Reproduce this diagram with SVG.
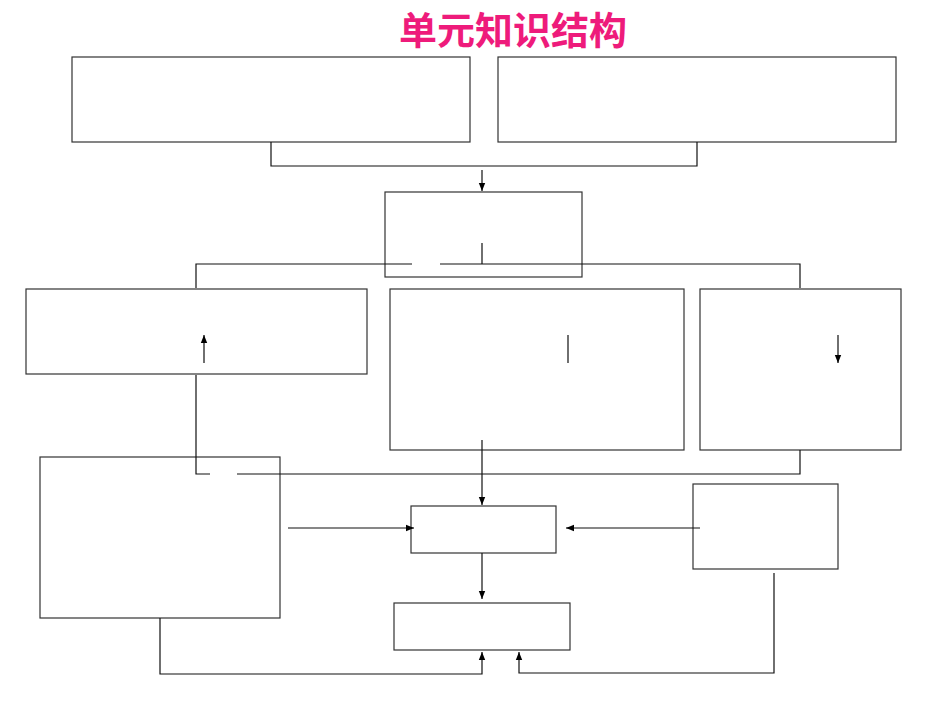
<svg xmlns="http://www.w3.org/2000/svg" width="950" height="713" viewBox="0 0 950 713">
<style>
.b{fill:#fff;stroke:#333;stroke-width:1.2}
.c{fill:none;stroke:#111;stroke-width:1.2}
.t{font-family:"Noto Sans CJK SC",sans-serif;font-size:38px;fill:#ee1b7b;font-weight:bold}
</style>
<defs>
<marker id="a" viewBox="0 0 10 10" refX="10" refY="5" markerWidth="7" markerHeight="7" orient="auto-start-reverse"><path d="M0,1L10,5L0,9z" fill="#000"/></marker>
</defs>
<rect width="950" height="713" fill="#fff"/>
<text class="t" x="513" y="44" text-anchor="middle">单元知识结构</text>
<g id="n1"><rect class="b" x="72" y="57" width="398" height="85"/></g>
<g id="n2"><rect class="b" x="498" y="57" width="398" height="85"/></g>
<g id="n3"><rect class="b" x="385" y="192" width="197" height="85"/></g>
<g id="n4"><rect class="b" x="26" y="289" width="341" height="85"/></g>
<g id="n5"><rect class="b" x="390" y="289" width="294" height="161"/></g>
<g id="n6"><rect class="b" x="700" y="289" width="201" height="161"/></g>
<g id="n7"><rect class="b" x="40" y="457" width="240" height="161"/></g>
<g id="n8"><rect class="b" x="411" y="506" width="145" height="47"/></g>
<g id="n9"><rect class="b" x="693" y="484" width="145" height="85"/></g>
<g id="n10"><rect class="b" x="394" y="603" width="176" height="47"/></g>
<g id="connectors">
<path class="c" d="M271,142V166H697V142"/>
<path class="c" d="M482,170V191" marker-end="url(#a)"/>
<path class="c" d="M482,243V264M196,288V264H412M440,264H800V288"/>
<path class="c" d="M204,335V363M568,335V363M838,335V363" marker-start="url(#a)" marker-end="url(#a)"/>
<path class="c" d="M196,375V474H210M237,474H800V450"/>
<path class="c" d="M482,440V505" marker-end="url(#a)"/>
<path class="c" d="M288,528H414" marker-end="url(#a)"/>
<path class="c" d="M700,528H566" marker-end="url(#a)"/>
<path class="c" d="M482,553V599" marker-end="url(#a)"/>
<path class="c" d="M160,618V674H482V652" marker-end="url(#a)"/>
<path class="c" d="M774,573V673H519V652" marker-end="url(#a)"/>
</g>
</svg>
